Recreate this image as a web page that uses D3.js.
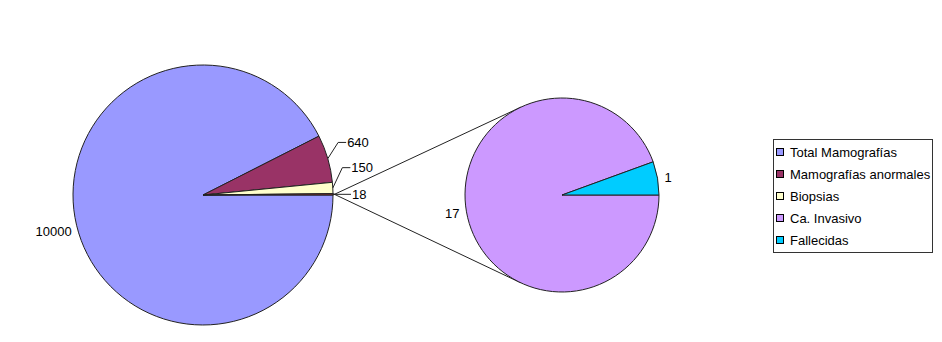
<!DOCTYPE html>
<html>
<head>
<meta charset="utf-8">
<script src="https://cdn.jsdelivr.net/npm/d3@7"></script>
<style>
  body { margin: 0; background: #fff; }
  svg { display: block; font-family: Arial, "Liberation Sans", sans-serif; }
</style>
</head>
<body>
<svg id="chart" width="942" height="342"></svg>
<script>
// main pie data (the last slice is the "other" slice split in the second pie)
const mainLabels = ['Total Mamografías', 'Mamografías anormales', 'Biopsias', 'Otros'];
const mainValues = [10000, 640, 150, 18];
const mainColors = ['#9999ff', '#993366', '#ffffcc', '#993333'];

// secondary pie data
const subLabels = ['Ca. Invasivo', 'Fallecidas'];
const subValues = [17, 1];
const subColors = ['#cc99ff', '#00ccff'];

const legendLabels = ['Total Mamografías', 'Mamografías anormales', 'Biopsias', 'Ca. Invasivo', 'Fallecidas'];
const legendColors = ['#9999ff', '#993366', '#ffffcc', '#cc99ff', '#00ccff'];

const svg = d3.select('#chart');

const main = {cx: 203, cy: 195, r: 130};
const sub = {cx: 562, cy: 195, r: 97};
const stroke = '#222';

// clockwise from 3 o'clock, so the small slices end up just above the horizontal
const pie = d3.pie().sort(null).startAngle(Math.PI / 2).endAngle(Math.PI / 2 + 2 * Math.PI);

const mainArcs = pie(mainValues);
const subArcs = pie(subValues);

const arcMain = d3.arc().innerRadius(0).outerRadius(main.r);
const arcSub = d3.arc().innerRadius(0).outerRadius(sub.r);

// d3 angle (clockwise from 12 o'clock) to screen point
function polar(c, r, a) {
  return [c.cx + r * Math.sin(a), c.cy - r * Math.cos(a)];
}

// connector lines from the "other" slice edges to the tangents of the second pie
const other = mainArcs[3];
const p1 = polar(main, main.r, other.startAngle);
const p2 = polar(main, main.r, other.endAngle);
function tangent(p, up) {
  const dx = sub.cx - p[0], dy = sub.cy - p[1];
  const d = Math.sqrt(dx * dx + dy * dy);
  const base = Math.atan2(-dy, -dx);
  const t = Math.acos(sub.r / d) * (up ? -1 : 1);
  return [sub.cx + sub.r * Math.cos(base + t), sub.cy + sub.r * Math.sin(base + t)];
}
const t1 = tangent(p1, true);
const t2 = tangent(p2, false);

svg.append('line').attr('x1', p1[0]).attr('y1', p1[1]).attr('x2', t1[0]).attr('y2', t1[1])
  .attr('stroke', stroke).attr('stroke-width', 1);
svg.append('line').attr('x1', p2[0]).attr('y1', p2[1]).attr('x2', t2[0]).attr('y2', t2[1])
  .attr('stroke', stroke).attr('stroke-width', 1);

// main pie
const gMain = svg.append('g').attr('transform', `translate(${main.cx},${main.cy})`);
gMain.selectAll('path')
  .data(mainArcs)
  .enter().append('path')
  .attr('d', arcMain)
  .attr('fill', (d, i) => mainColors[i])
  .attr('stroke', stroke)
  .attr('stroke-width', 1)
  .attr('stroke-linejoin', 'round');

// second pie
const gSub = svg.append('g').attr('transform', `translate(${sub.cx},${sub.cy})`);
gSub.selectAll('path')
  .data(subArcs)
  .enter().append('path')
  .attr('d', arcSub)
  .attr('fill', (d, i) => subColors[i])
  .attr('stroke', stroke)
  .attr('stroke-width', 1)
  .attr('stroke-linejoin', 'round');

const fontSize = 13;

function label(g, text, x, y, anchor) {
  g.append('text')
    .attr('x', x).attr('y', y)
    .attr('dy', '0.36em')
    .attr('text-anchor', anchor)
    .attr('font-size', fontSize)
    .attr('fill', '#000')
    .text(text);
}

// big slice label, placed outside along the mid angle
{
  const a = (mainArcs[0].startAngle + mainArcs[0].endAngle) / 2;
  const p = polar(main, main.r + 5, a);
  label(svg, mainValues[0], p[0], p[1] + 5, 'end');
}

// small slices get leader lines: [elbow radius, elbow angle offset (deg)]
const leaders = [null, [145, -5], [142, -8], [140, 0]];
mainArcs.forEach((d, i) => {
  if (!leaders[i]) return;
  const a = (d.startAngle + d.endAngle) / 2;
  const start = polar(main, main.r, a);
  const elbow = polar(main, leaders[i][0], a + leaders[i][1] * Math.PI / 180);
  if (leaders[i][1] === 0) elbow[1] = start[1];
  const end = [elbow[0] + 8, elbow[1]];
  svg.append('path')
    .attr('d', d3.line()([start, elbow, end]))
    .attr('fill', 'none')
    .attr('stroke', stroke)
    .attr('stroke-width', 1);
  label(svg, mainValues[i], end[0] + 1, end[1], 'start');
});

// second pie labels
subArcs.forEach((d, i) => {
  const a = (d.startAngle + d.endAngle) / 2;
  const p = polar(sub, sub.r + 7, a);
  label(svg, subValues[i], p[0], p[1], Math.sin(a) < 0 ? 'end' : 'start');
});

// legend
const legend = svg.append('g').attr('transform', 'translate(773,139)');
legend.append('rect')
  .attr('x', 0.5).attr('y', 0.5)
  .attr('width', 159).attr('height', 113)
  .attr('fill', '#fff')
  .attr('stroke', '#333')
  .attr('stroke-width', 1);

const legendY = d3.scaleBand().domain(legendLabels).range([2, 112]);
const item = legend.selectAll('.item')
  .data(legendLabels)
  .enter().append('g')
  .attr('class', 'item')
  .attr('transform', d => `translate(0,${legendY(d) + legendY.bandwidth() / 2})`);
item.append('rect')
  .attr('x', 3.5).attr('y', -3.5)
  .attr('width', 7).attr('height', 7)
  .attr('fill', (d, i) => legendColors[i])
  .attr('stroke', '#000')
  .attr('stroke-width', 1);
item.append('text')
  .attr('x', 17)
  .attr('dy', '0.36em')
  .attr('font-size', fontSize)
  .text(d => d);
</script>
</body>
</html>
